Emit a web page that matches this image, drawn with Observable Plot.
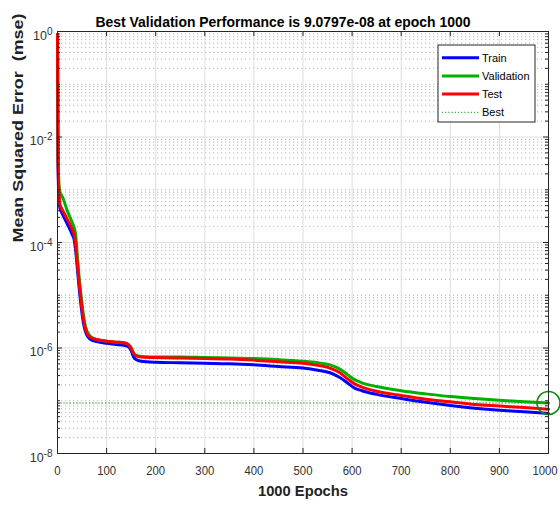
<!DOCTYPE html>
<html><head><meta charset="utf-8">
<script src="https://cdn.jsdelivr.net/npm/d3@7"></script>
<script src="https://cdn.jsdelivr.net/npm/@observablehq/plot@0.6"></script>
<style>body{margin:0;background:#fff;} #chart{width:560px;height:507px;}</style>
</head><body><div id="chart"></div>
<script>
const titleText = "Best Validation Performance is 9.0797e-08 at epoch 1000";
const xLabelText = "1000 Epochs";
const yLabelText = "Mean Squared Error  (mse)";

const epochs = [0,1,2,3,5,8,12,20,30,34,37,40,44,48,52,56,60,65,70,80,100,120,135,145,150,155,160,170,200,250,300,350,400,450,500,530,555,575,590,605,620,650,700,750,800,850,900,950,1000];
const train = [0.89,3.98e-3,1.12e-3,6.31e-4,4.47e-4,3.8e-4,3.16e-4,2.24e-4,1.41e-4,1.12e-4,7.08e-5,3.55e-5,1.41e-5,6.31e-6,3.31e-6,2.19e-6,1.74e-6,1.51e-6,1.41e-6,1.32e-6,1.23e-6,1.17e-6,1.12e-6,1.05e-6,8.91e-7,6.76e-7,6.03e-7,5.62e-7,5.37e-7,5.25e-7,5.13e-7,5.01e-7,4.79e-7,4.47e-7,4.17e-7,3.8e-7,3.39e-7,2.75e-7,2.19e-7,1.74e-7,1.55e-7,1.32e-7,1.1e-7,9.33e-8,8.13e-8,7.24e-8,6.61e-8,6.17e-8,5.75e-8];
const validation = [0.89,6.31e-3,2.24e-3,1.26e-3,8.9e-4,7.94e-4,6.61e-4,3.98e-4,2.4e-4,1.91e-4,1.41e-4,6.31e-5,2.24e-5,1.0e-5,4.79e-6,2.82e-6,2.09e-6,1.74e-6,1.58e-6,1.45e-6,1.35e-6,1.29e-6,1.26e-6,1.15e-6,1.0e-6,7.94e-7,7.24e-7,6.92e-7,6.76e-7,6.76e-7,6.61e-7,6.46e-7,6.31e-7,6.03e-7,5.62e-7,5.25e-7,4.79e-7,3.98e-7,3.16e-7,2.51e-7,2.19e-7,1.86e-7,1.55e-7,1.35e-7,1.2e-7,1.1e-7,1.02e-7,9.55e-8,9.0797e-8];
const test = [0.89,5.0e-3,1.58e-3,8.9e-4,5.25e-4,4.47e-4,3.8e-4,2.75e-4,1.78e-4,1.41e-4,8.9e-5,4.47e-5,1.78e-5,7.94e-6,3.98e-6,2.51e-6,1.91e-6,1.66e-6,1.55e-6,1.45e-6,1.35e-6,1.29e-6,1.26e-6,1.15e-6,1.0e-6,7.94e-7,7.08e-7,6.76e-7,6.61e-7,6.46e-7,6.31e-7,6.17e-7,5.89e-7,5.5e-7,5.13e-7,4.68e-7,4.17e-7,3.39e-7,2.63e-7,2.09e-7,1.82e-7,1.51e-7,1.26e-7,1.07e-7,9.55e-8,8.51e-8,7.94e-8,7.41e-8,6.92e-8];
const bestEpoch = 1000;
const bestPerf = 9.0797e-8;

const seriesNames = ["Train","Validation","Test"];
const seriesColors = ["#0000ff","#00b000","#ff0000"];
const legendNames = ["Train","Validation","Test","Best"];
const bestColor = "#009a00";
const circleColor = "#108a10";

const xTicks = [0,100,200,300,400,500,600,700,800,900,1000];
const yLabelTicks = [1e0,1e-2,1e-4,1e-6,1e-8];
const yMinorTicks = [];
for (let k = -8; k < 0; k++) {
  for (let m = 2; m <= 9; m++) yMinorTicks.push(m * Math.pow(10, k));
}
[1e-1,1e-3,1e-5,1e-7].forEach(v => yMinorTicks.push(v));

const rows = [];
[train, validation, test].forEach((arr, i) =>
  arr.forEach((v, j) => rows.push({series: seriesNames[i], epoch: epochs[j], mse: v})));

const W = 560, H = 507, mL = 57, mR = 12, mT = 31, mB = 54;
const fw = W - mL - mR, fh = H - mT - mB;
const font = "'Liberation Sans', Arial, Helvetica, sans-serif";
const axisColor = "#262626";

function legend(index, scales, values, dimensions) {
  const {width, marginRight, marginTop} = dimensions;
  const bw = 97, bh = 77;
  const x0 = width - marginRight - 13 - bw, y0 = marginTop + 14;
  const g = d3.create("svg:g").attr("font-family", font).attr("font-size", 11).attr("text-anchor", "start");
  g.append("rect").attr("x", x0).attr("y", y0).attr("width", bw).attr("height", bh)
    .attr("fill", "white").attr("stroke", axisColor).attr("stroke-width", 1);
  legendNames.forEach((name, i) => {
    const y = y0 + 12.7 + i * 18.2;
    const isBest = i === 3;
    g.append("line").attr("x1", x0 + 4).attr("x2", x0 + 41).attr("y1", y).attr("y2", y)
      .attr("stroke", isBest ? bestColor : seriesColors[i])
      .attr("stroke-width", isBest ? 1 : 3)
      .attr("stroke-dasharray", isBest ? "1.2,2" : null);
    g.append("text").attr("x", x0 + 44).attr("y", y).attr("dy", "0.35em")
      .attr("text-anchor", "start").attr("fill", "#000").text(name);
  });
  return g.node();
}

const chart = Plot.plot({
  width: W, height: H,
  marginLeft: mL, marginRight: mR, marginTop: mT, marginBottom: mB,
  style: {fontFamily: font, fontSize: "12px", background: "white", color: "#333"},
  x: {domain: [0, 1000], axis: null},
  y: {type: "log", domain: [1e-8, 1], axis: null},
  color: {domain: seriesNames, range: seriesColors},
  marks: [
    Plot.ruleY(yMinorTicks, {stroke: "#b8b8b8", strokeDasharray: "1.2,2.8", strokeWidth: 1}),
    Plot.ruleX(xTicks, {stroke: "#dedede", strokeWidth: 1}),
    Plot.ruleY(yLabelTicks, {stroke: "#dedede", strokeWidth: 1}),
    Plot.ruleY([bestPerf], {stroke: bestColor, strokeDasharray: "1.2,2", strokeWidth: 1}),
    Plot.line(rows, {x: "epoch", y: "mse", z: "series", stroke: "series", strokeWidth: 3, curve: "monotone-x"}),
    Plot.dot([{epoch: bestEpoch, mse: bestPerf}], {x: "epoch", y: "mse", r: 11.5, stroke: circleColor, strokeWidth: 1.6, fill: "none"}),
    Plot.frame({stroke: axisColor, strokeWidth: 1}),
    Plot.tickX(xTicks, {x: d => d, insetTop: fh - 5, stroke: axisColor}),
    Plot.tickX(xTicks, {x: d => d, insetBottom: fh - 5, stroke: axisColor}),
    Plot.tickY(yLabelTicks, {y: d => d, insetRight: fw - 5, stroke: axisColor}),
    Plot.tickY(yLabelTicks, {y: d => d, insetLeft: fw - 5, stroke: axisColor}),
    Plot.tickY(yMinorTicks, {y: d => d, insetRight: fw - 3, stroke: axisColor}),
    Plot.tickY(yMinorTicks, {y: d => d, insetLeft: fw - 3, stroke: axisColor}),
    Plot.axisX(xTicks, {tickSize: 0, tickPadding: 13, fontSize: 12.5, fill: "#333", label: null, tickFormat: d => String(d)}),
    Plot.axisY(yLabelTicks, {tickSize: 0, tickPadding: 5, fontSize: 12.5, fill: "#333", label: null, dy: 4,
      tickFormat: d => "10^" + Math.round(Math.log10(d))}),
    Plot.text([titleText], {frameAnchor: "top", dy: -16, dx: -20, fontSize: 15.5, fontWeight: "bold", fill: "#000", text: d => d}),
    Plot.text([xLabelText], {frameAnchor: "bottom", dy: 42, fontSize: 14.5, fontWeight: "bold", fill: "#222", text: d => d}),
    Plot.text([yLabelText], {frameAnchor: "left", dx: -39, rotate: -90, fontSize: 14.5, fontWeight: "bold", fill: "#222", text: d => d}),
    legend
  ]
});
document.getElementById("chart").appendChild(chart);

const svg = d3.select(chart);
const fits = {};
fits[titleText] = 375;
fits[xLabelText] = 90;
fits[yLabelText] = 229;
svg.selectAll("text").each(function() {
  const t = d3.select(this);
  const s = this.textContent;
  if (/^10\^-?\d+$/.test(s)) {
    const parts = s.split("^");
    t.selectAll("*").remove();
    t.text(parts[0]);
    t.append("tspan").attr("dy", "-0.5em").attr("font-size", "0.8em").text(parts[1]);
  } else if (fits[s]) {
    t.attr("textLength", fits[s]).attr("lengthAdjust", "spacingAndGlyphs");
  } else if (/^\d+$/.test(s) && xTicks.includes(+s)) {
    t.attr("textLength", 6.3 * s.length).attr("lengthAdjust", "spacingAndGlyphs");
    if (+s === 1000) t.attr("dx", -3.5);
  }
});
</script>
</body></html>
